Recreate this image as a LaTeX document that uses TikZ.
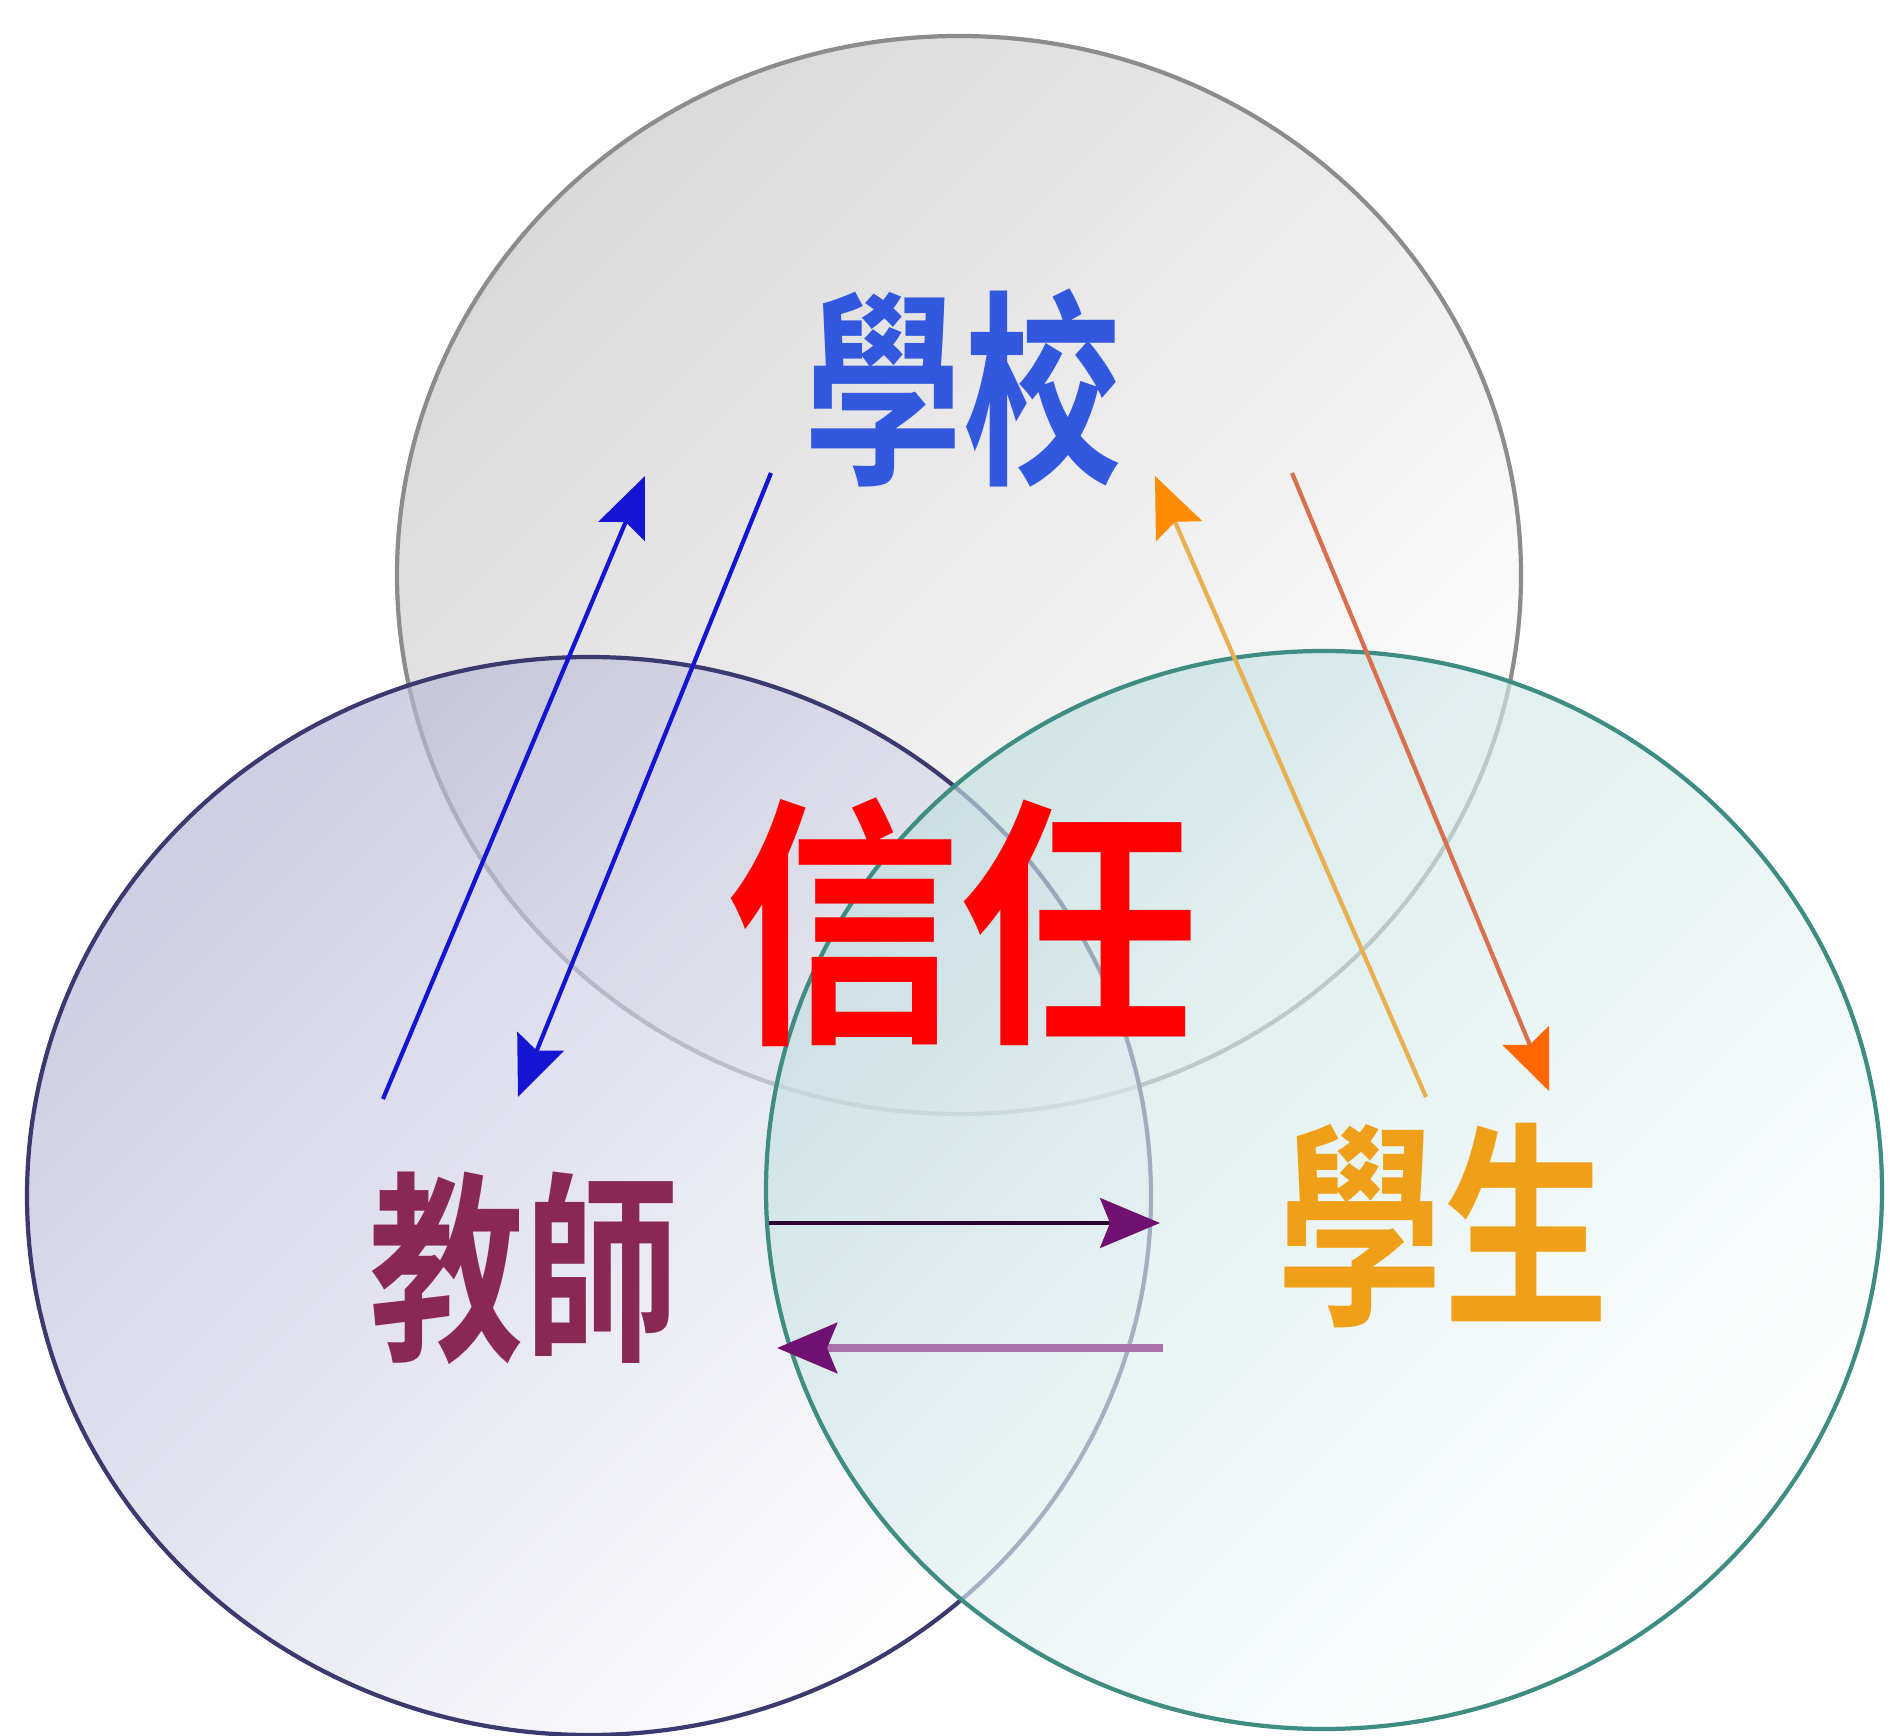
\documentclass[tikz,border=0pt]{standalone}
\usepackage{fontspec}
\newfontfamily\cjk{Noto Sans CJK TC}[BoldFont={Noto Sans CJK TC Bold}]
\usetikzlibrary{arrows.meta}

\definecolor{schoolblue}{HTML}{3358E0}
\definecolor{trustred}{HTML}{FF0000}
\definecolor{teachermaroon}{HTML}{8A2855}
\definecolor{studentorange}{HTML}{F0A018}
\definecolor{arrowblue}{HTML}{1414D2}
\definecolor{arrowamber}{HTML}{E8B050}
\definecolor{arrowcoral}{HTML}{D87050}
\definecolor{arrowpurple}{HTML}{701070}
\definecolor{ringteal}{HTML}{3E8C82}
\definecolor{ringnavy}{HTML}{3A3A6E}

\tikzset{
  ring/.style={line width=1.2pt},
  word/.style={font=\cjk\bfseries, inner sep=0pt},
  link/.style={line width=1.2pt},
  tip/.style={-{Stealth[length=6mm,width=5mm,inset=1mm,#1]}}
}

\begin{document}
\begin{tikzpicture}
  \useasboundingbox[fill=white] (0,0) rectangle (18.9,-17.36);

  % tres circulos com sombreado transparente
  \foreach \cx/\cy/\rx/\shadec/\linec in {9.59/-5.75/5.62/gray!45/gray!90,
                                          5.89/-11.96/5.62/blue!30!gray!45/ringnavy,
                                          13.24/-11.90/5.58/teal!25/ringteal} {
    \shade[top color=\shadec, bottom color=white, shading angle=45, fill opacity=0.65]
      (\cx,\cy) ellipse (\rx cm and 5.39cm);
    \draw[ring, \linec] (\cx,\cy) ellipse (\rx cm and 5.39cm);
  }

  % textos
  \node[word, text=schoolblue] (school) at (9.63,-3.88)
    {\fontsize{45}{45}\selectfont\scalebox{1}[1.32]{學校}};
  \node[word, text=trustred] (trust) at (9.61,-9.22)
    {\fontsize{67}{67}\selectfont\scalebox{1}[1.12]{信任}};
  \node[word, text=teachermaroon] (teacher) at (5.24,-12.68)
    {\fontsize{44}{44}\selectfont\scalebox{1}[1.32]{教師}};
  \node[word, text=studentorange] (student) at (14.43,-12.26)
    {\fontsize{47}{47}\selectfont\scalebox{1}[1.32]{學生}};

  % pontas das setas
  \coordinate (tsA) at (3.83,-10.99);
  \coordinate (tsB) at (6.45,-4.76);
  \coordinate (stA) at (7.71,-4.73);
  \coordinate (stB) at (5.18,-10.97);
  \coordinate (usA) at (14.26,-10.97);
  \coordinate (usB) at (11.55,-4.76);
  \coordinate (suA) at (12.92,-4.73);
  \coordinate (suB) at (15.49,-10.91);
  \coordinate (tuA) at (7.69,-12.23);
  \coordinate (tuB) at (11.60,-12.23);
  \coordinate (utA) at (11.63,-13.48);
  \coordinate (utB) at (7.77,-13.48);

  % setas
  \draw[link, arrowblue, tip={arrowblue}] (tsA) -- (tsB);
  \draw[link, arrowblue, tip={arrowblue}] (stA) -- (stB);
  \draw[link, arrowamber, tip={color=orange!90!yellow}] (usA) -- (usB);
  \draw[link, arrowcoral, tip={color=orange!80!red}] (suA) -- (suB);
  \draw[line width=1pt, black!60!arrowpurple, tip={color=arrowpurple}] (tuA) -- (tuB);
  \draw[line width=2.2pt, arrowpurple!60!white, tip={color=arrowpurple}] (utA) -- (utB);
\end{tikzpicture}
\end{document}
